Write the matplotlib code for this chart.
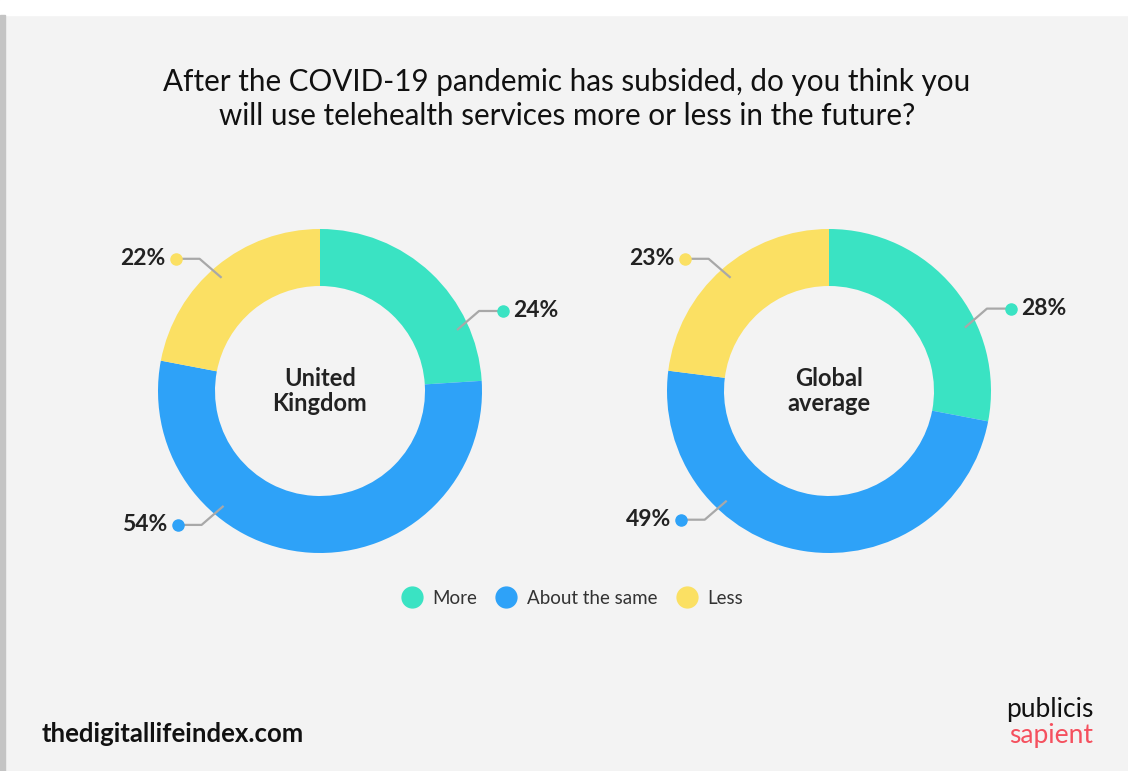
import numpy as np
import matplotlib.pyplot as plt
from matplotlib.lines import Line2D
from matplotlib.patches import Rectangle

W, H = 1128, 771

categories = ['More', 'About the same', 'Less']
colors = ['#3ae3c3', '#2ea2f8', '#fbe063']
regions = ['United\nKingdom', 'Global\naverage']
uk_values = [24, 54, 22]
global_values = [28, 49, 23]

title = ('After the COVID-19 pandemic has subsided, do you think you\n'
         'will use telehealth services more or less in the future?')

# donut layout in pixel space (y measured from top)
centers = [(320, 391), (829, 391)]
R_OUT, R_IN = 162, 105
# angle where each leader line touches its slice
label_angles = [[24, 230, 131], [25, 227, 131]]

plt.rcParams['font.family'] = ['Lato', 'DejaVu Sans']

fig = plt.figure(figsize=(W / 100, H / 100), dpi=100, facecolor='#f3f3f3')
ax = fig.add_axes([0, 0, 1, 1])
ax.set_facecolor('#f3f3f3')


def Y(y):
    return H - y


def donut(center, values, name, angles):
    cx, cy = center
    ax.pie(values, colors=colors, startangle=90, counterclock=False,
           radius=R_OUT, center=(cx, Y(cy)),
           wedgeprops=dict(width=R_OUT - R_IN, linewidth=0))
    ax.text(cx, Y(cy), name, ha='center', va='center', fontsize=17,
            fontweight='bold', color='#222222', linespacing=1.15)
    for val, col, ang in zip(values, colors, angles):
        a = np.radians(ang)
        x0 = cx + 150 * np.cos(a)
        y0 = Y(cy) + 150 * np.sin(a)
        sx = 1 if np.cos(a) > 0 else -1
        sy = 1 if np.sin(a) > 0 else -1
        x1, y1 = x0 + 22 * sx, y0 + 19 * sy
        x2 = x1 + 24 * sx
        ax.plot([x0, x1, x2], [y0, y1, y1], color='#a8a8a8', lw=1.6,
                solid_capstyle='butt', zorder=3)
        ax.plot(x2, y1, 'o', color=col, ms=8, zorder=4)
        ax.text(x2 + 10 * sx, y1, f'{val}%', ha='left' if sx > 0 else 'right',
                va='center', fontsize=16.5, fontweight='bold', color='#222222')


donut(centers[0], uk_values, regions[0], label_angles[0])
donut(centers[1], global_values, regions[1], label_angles[1])

ax.set_xlim(0, W)
ax.set_ylim(0, H)
ax.set_aspect('equal')
ax.axis('off')

# page frame: white strip on top, grey bar on the left
ax.add_patch(Rectangle((0, Y(15)), W, 15, color='white', zorder=0))
ax.add_patch(Rectangle((0, 0), 5, Y(15), color='#c4c4c4', zorder=0))

ax.text(567, Y(99), title, ha='center', va='center', fontsize=21.3,
        color='#111111', linespacing=1.3)

handles = [Line2D([], [], marker='o', ls='', color=c, ms=15) for c in colors]
ax.legend(handles, categories, loc='center', bbox_to_anchor=(568 / W, 1 - 598 / H),
          ncol=3, frameon=False, fontsize=13.5, handletextpad=0.1,
          columnspacing=0.55, labelcolor='#333333')

ax.text(42, Y(734), 'thedigitallifeindex.com', ha='left', va='center',
        fontsize=18.5, fontweight='bold', color='#111111')
ax.text(1093, Y(710), 'publicis', ha='right', va='center', fontsize=19,
        fontweight='normal', color='#111111')
ax.text(1093, Y(736), 'sapient', ha='right', va='center', fontsize=19,
        fontweight='normal', color='#f5505e')

fig.savefig('out.png', dpi=100, facecolor=fig.get_facecolor())
